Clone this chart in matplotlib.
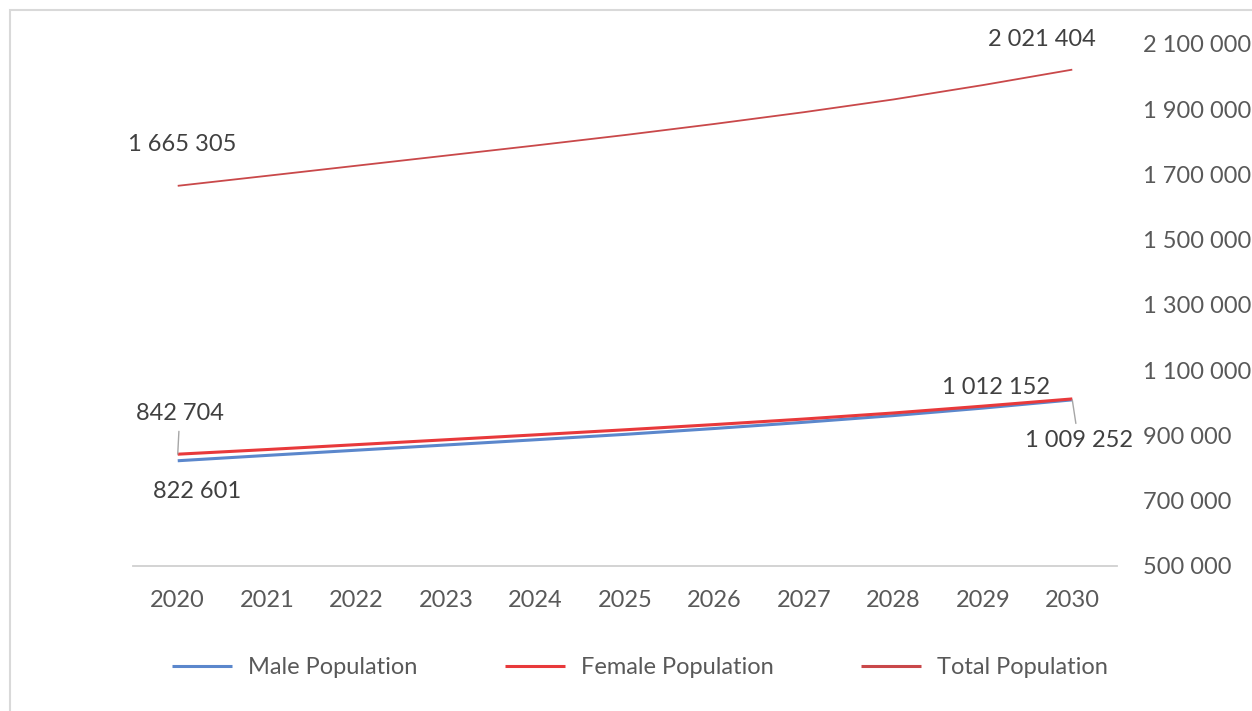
import matplotlib.pyplot as plt
from matplotlib.patches import Rectangle

plt.rcParams['font.family'] = ['Lato', 'DejaVu Sans']

years = ['2020', '2021', '2022', '2023', '2024', '2025', '2026', '2027', '2028', '2029', '2030']
male = [822601, 839000, 855000, 871000, 887000, 903500, 921500, 940500, 961000, 984000, 1009252]
female = [842704, 857000, 872000, 887000, 902000, 917500, 933500, 950500, 969000, 990000, 1012152]
total = [1665305, 1696000, 1727000, 1758000, 1789000, 1821000, 1855000, 1891000, 1930000, 1974000, 2021404]
y_ticks = [500000, 700000, 900000, 1100000, 1300000, 1500000, 1700000, 1900000, 2100000]


def fmt(v):
    return '{:,}'.format(v).replace(',', ' ')


fig = plt.figure(figsize=(12.52, 7.11), dpi=100)
fig.patches.append(Rectangle((10 / 1252, -0.1), 1.2, 1.1 - 10 / 711, transform=fig.transFigure,
                             fill=False, edgecolor='#d9d9d9', linewidth=1.5))

ax = fig.add_axes([133 / 1252, 1 - 566 / 711, (1117 - 133) / 1252, (566 - 44) / 711])
x = list(range(len(years)))
ax.plot(x, male, color='#5b87cc', lw=2.2, label='Male Population', solid_capstyle='butt')
ax.plot(x, female, color='#e8393b', lw=2.2, label='Female Population', solid_capstyle='butt')
ax.plot(x, total, color='#c9484a', lw=1.3, label='Total Population', solid_capstyle='butt')

ax.set_xlim(-0.5, len(years) - 0.5)
ax.set_ylim(y_ticks[0], y_ticks[-1])
ax.set_xticks(x)
ax.set_xticklabels(years)
ax.set_yticks(y_ticks)
ax.set_yticklabels([fmt(v) for v in y_ticks])
ax.yaxis.tick_right()
for s in ['top', 'left', 'right']:
    ax.spines[s].set_visible(False)
ax.spines['bottom'].set_color('#d0d0d0')
ax.spines['bottom'].set_linewidth(1.3)
ax.tick_params(axis='both', length=0, labelsize=17, colors='#595959')
ax.tick_params(axis='x', pad=17)
ax.tick_params(axis='y', pad=19)
for lab in ax.get_yticklabels():
    lab.set_horizontalalignment('left')

# data labels at both ends of each series
lead = dict(arrowstyle='-', color='#a6a6a6', lw=1, shrinkA=3, shrinkB=0)
labels = [
    (0, female[0], (1.5, 29), lead),
    (0, male[0], (14, -22), None),
    (0, total[0], (3.5, 30), None),
    (10, total[-1], (-22, 22), None),
    (10, female[-1], (-55, 8), None),
    (10, male[-1], (4.5, -29.5), lead),
]
for xi, v, off, arrow in labels:
    ax.annotate(fmt(v), xy=(xi, v), xytext=off, textcoords='offset points',
                ha='center', va='center', fontsize=17, color='#404040',
                arrowprops=arrow)

leg = fig.legend(loc='center', bbox_to_anchor=(640 / 1252, 1 - 668 / 711), ncol=3, frameon=False,
                 fontsize=17, labelcolor='#595959', handlelength=2.55, handletextpad=0.68,
                 columnspacing=3.7)
for h in leg.get_lines():
    h.set_linewidth(2.2)

fig.savefig('out.png', dpi=100)
